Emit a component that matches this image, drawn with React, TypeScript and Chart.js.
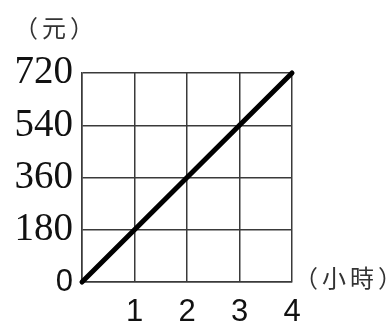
import React, { useEffect, useRef } from "react";
import { Chart, registerables } from "chart.js";

Chart.register(...registerables);

const hours = [0, 1, 2, 3, 4];
const cost = [0, 180, 360, 540, 720];
const xTicks = [0, 1, 2, 3, 4];
const yTicks = [0, 180, 360, 540, 720];
const yUnit = "（元）";
const xUnit = "（小時）";

const GRID = "#3a3a3a";

export default function App() {
  const ref = useRef<HTMLCanvasElement | null>(null);
  useEffect(() => {
    document.body.style.margin = "0";
    const canvas = ref.current;
    if (!canvas) return;
    const unitPlugin = {
      id: "units",
      afterDraw(chart: any) {
        const { ctx, chartArea: a } = chart;
        ctx.save();
        ctx.font = '24px "Noto Sans CJK TC"';
        ctx.fillStyle = "#333";
        ctx.textBaseline = "middle";
        ctx.textAlign = "left";
        (ctx as any).letterSpacing = "4px";
        ctx.fillText(yUnit, a.left - 68, a.top - 45);
        ctx.fillText(xUnit, a.right + 2, a.bottom - 4);
        ctx.restore();
      },
    };
    const chart = new Chart(canvas, {
      type: "line",
      data: {
        datasets: [
          {
            data: hours.map((h, i) => ({ x: h, y: cost[i] })),
            borderColor: "#000",
            borderWidth: 5,
            borderCapStyle: "round",
            pointRadius: 0,
            tension: 0,
            clip: false as any,
          },
        ],
      },
      options: {
        animation: false,
        responsive: false,
        layout: { padding: { left: 0, right: 100, top: 73, bottom: 0 } },
        plugins: { legend: { display: false }, tooltip: { enabled: false } },
        scales: {
          x: {
            type: "linear",
            min: 0,
            max: 4,
            afterBuildTicks: (s: any) => {
              s.ticks = xTicks.map((v) => ({ value: v }));
            },
            afterFit: (s: any) => {
              s.height = 44;
            },
            grid: { color: GRID, lineWidth: 1.5, drawTicks: false },
            border: { color: GRID, width: 1.5 },
            ticks: {
              padding: 12,
              color: "#111",
              font: { family: "Liberation Sans", size: 31 },
              callback: (v: any) => (v === 0 ? "" : String(v)),
            },
          },
          y: {
            type: "linear",
            min: 0,
            max: 720,
            afterBuildTicks: (s: any) => {
              s.ticks = yTicks.map((v) => ({ value: v }));
            },
            afterFit: (s: any) => {
              s.width = 82;
            },
            grid: { color: GRID, lineWidth: 1.5, drawTicks: false },
            border: { color: GRID, width: 1.5 },
            ticks: {
              padding: 9,
              color: "#111",
              font: (c: any) =>
                c.tick && c.tick.value === 0
                  ? { family: "Liberation Sans", size: 31 }
                  : { family: "Liberation Serif", size: 39 },
              callback: (v: any) => String(v),
            },
          },
        },
      },
      plugins: [unitPlugin],
    });
    return () => chart.destroy();
  }, []);
  return (
    <div style={{ width: 392, height: 326 }}>
      <canvas ref={ref} width={392} height={326} style={{ display: "block" }} />
    </div>
  );
}
